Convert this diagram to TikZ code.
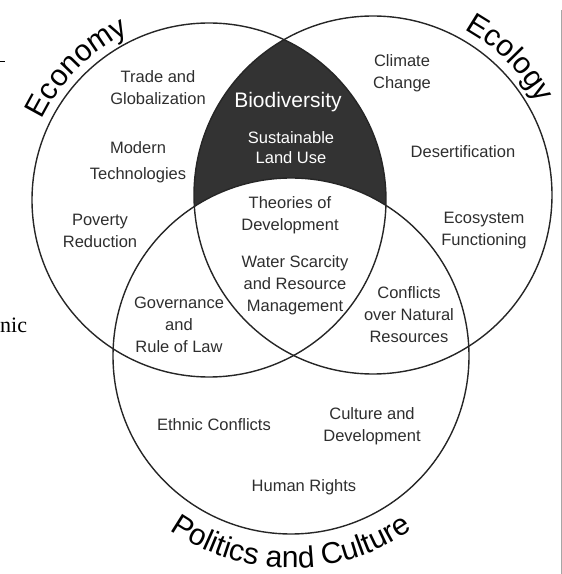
\documentclass[tikz,border=0pt]{standalone}
\usepackage{fontspec}
\setmainfont{Liberation Sans}
\newfontfamily\serifnic{Liberation Serif}
\usetikzlibrary{decorations.text,calc}
\begin{document}
\begin{tikzpicture}[x=1pt,y=1pt,
  ring/.style={draw=black!85, line width=1.4pt},
  lbl/.style={text=black!82, font=\fontsize{16.5}{22}\selectfont, align=center, inner sep=0pt},
  wlbl/.style={text=white, font=\fontsize{16.5}{20}\selectfont, align=center, inner sep=0pt},
  biglbl/.style={text=white, font=\fontsize{21}{24}\selectfont, inner sep=0pt},
  arctext/.style={decorate, decoration={text along path, text align=center, text={#1}}},
]
\useasboundingbox (0,0) rectangle (562,574);
\coordinate (cE) at (209,374);
\coordinate (cG) at (373,379);
\coordinate (cP) at (291,218);
% dark region: Economy and Ecology, not Politics
\begin{scope}
  \clip (cE) circle[radius=177];
  \clip (cG) circle[radius=179];
  \fill[black!80] (0,0) rectangle (562,574);
  \fill[white] (cP) circle[radius=178];
\end{scope}
\draw[ring] (cE) circle[radius=177];
\draw[ring] (cG) circle[radius=179];
\draw[ring] (cP) circle[radius=178];
% curved titles
\path[arctext={|\fontsize{30}{30}\selectfont|Economy}] ($(cE)+(156:185)$) arc[start angle=156, end angle=114, radius=185];
\path[arctext={|\fontsize{30}{30}\selectfont|Ecology}] ($(cG)+(64:189)$) arc[start angle=64, end angle=26, radius=189];
\path[arctext={|\fontsize{30}{30}\selectfont|Politics and Culture}] ($(cP)+(220:212)$) arc[start angle=220, end angle=320, radius=212];
% labels
\node[lbl] (trade) at (158,486) {Trade and\\Globalization};
\node[lbl] (modern) at (138,412) {Modern\\[4pt]Technologies};
\node[lbl] (poverty) at (100,343) {Poverty\\Reduction};
\node[lbl] (gov) at (179,249) {Governance\\and\\Rule of Law};
\node[lbl] (climate) at (402,501) {Climate\\Change};
\node[lbl] (desert) at (463,422) {Desertification};
\node[lbl] (ecosys) at (484,343) {Ecosystem\\Functioning};
\node[lbl] (conflicts) at (409,259) {Conflicts\\over Natural\\Resources};
\node[biglbl] (bio) at (288,472) {Biodiversity};
\node[wlbl] (land) at (291,426) {Sustainable\\Land Use};
\node[lbl] (theories) at (290,359) {Theories of\\Development};
\node[lbl] (water) at (295,289) {Water Scarcity\\and Resource\\Management};
\node[lbl] (ethnic) at (214,149) {Ethnic Conflicts};
\node[lbl] (culture) at (372,148) {Culture and\\Development};
\node[lbl] (human) at (304,87) {Human Rights};
% page-crop remnants
\node[anchor=base west, inner sep=0pt, font=\serifnic\fontsize{22}{22}\selectfont] (nic) at (0,241) {nic};
\coordinate (dashA) at (0,512);
\coordinate (dashB) at (5,512);
\draw[line width=1pt] (dashA) -- (dashB);
\coordinate (edgeT) at (561,564);
\coordinate (edgeB) at (561,0);
\draw[black!35, line width=0.8pt] (edgeT) -- (edgeB);
\end{tikzpicture}
\end{document}
